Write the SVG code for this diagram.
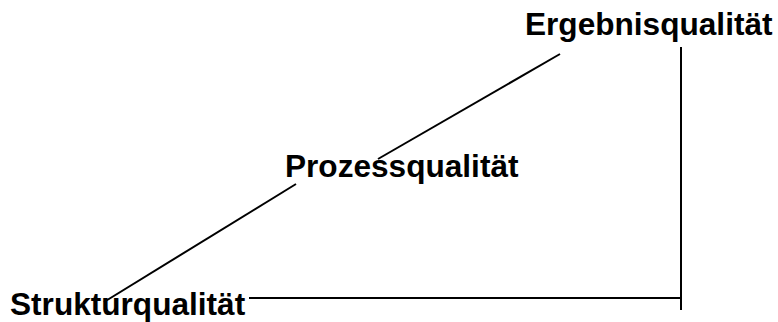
<svg xmlns="http://www.w3.org/2000/svg" width="778" height="322" viewBox="0 0 778 322">
<style>
.t{font-family:"Liberation Sans",Arial,sans-serif;font-weight:bold;font-size:31.6px;fill:#000}
.c{stroke:#000;stroke-width:2;fill:none}
</style>
<rect width="778" height="322" fill="#fff"/>
<g id="connectors">
<line class="c" x1="104" y1="302" x2="296" y2="184"/>
<line class="c" x1="378" y1="159" x2="560" y2="54"/>
<line class="c" x1="249" y1="298" x2="681" y2="298"/>
<line class="c" x1="681" y1="47" x2="681" y2="310"/>
</g>
<g id="struktur"><text class="t" x="10" y="315">Strukturqualität</text></g>
<g id="prozess"><text class="t" x="285" y="177">Prozessqualität</text></g>
<g id="ergebnis"><text class="t" x="525" y="35">Ergebnisqualität</text></g>
</svg>
